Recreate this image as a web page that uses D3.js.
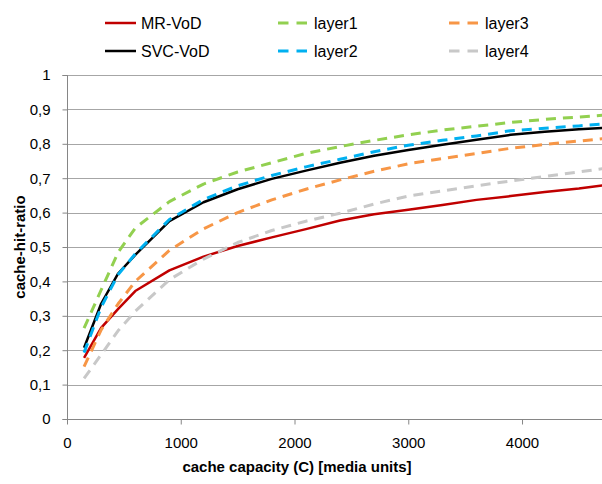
<!DOCTYPE html>
<html>
<head>
<meta charset="utf-8">
<script src="https://cdn.jsdelivr.net/npm/d3@7"></script>
<style>
  html, body { margin: 0; padding: 0; background: #fff; }
  svg { display: block; }
  text { font-family: "Liberation Sans", Arial, sans-serif; }
</style>
</head>
<body>
<svg id="chart" width="602" height="484"></svg>
<script>
// ---- data ----
const capacity = [150, 300, 450, 600, 900, 1200, 1500, 1800, 2100, 2400, 2700, 3000, 3300, 3600, 3900, 4200, 4500, 4800];
const mrVod  = [0.178, 0.265, 0.320, 0.372, 0.432, 0.472, 0.503, 0.528, 0.552, 0.577, 0.595, 0.608, 0.622, 0.637, 0.648, 0.660, 0.670, 0.683];
const svcVod = [0.207, 0.335, 0.423, 0.477, 0.575, 0.630, 0.668, 0.698, 0.722, 0.745, 0.765, 0.782, 0.797, 0.812, 0.826, 0.835, 0.842, 0.848];
const layer1 = [0.264, 0.375, 0.485, 0.555, 0.632, 0.683, 0.718, 0.745, 0.772, 0.792, 0.810, 0.826, 0.840, 0.851, 0.862, 0.871, 0.878, 0.885];
const layer2 = [0.193, 0.325, 0.420, 0.480, 0.580, 0.638, 0.678, 0.708, 0.733, 0.755, 0.777, 0.796, 0.810, 0.823, 0.838, 0.845, 0.852, 0.860];
const layer3 = [0.152, 0.259, 0.335, 0.400, 0.490, 0.553, 0.600, 0.637, 0.668, 0.695, 0.720, 0.742, 0.757, 0.772, 0.787, 0.798, 0.808, 0.818];
const layer4 = [0.118, 0.187, 0.257, 0.313, 0.405, 0.465, 0.513, 0.548, 0.575, 0.598, 0.625, 0.648, 0.663, 0.678, 0.692, 0.705, 0.718, 0.732];
const seriesNames = ["MR-VoD", "SVC-VoD", "layer1", "layer2", "layer3", "layer4"];
const xTicks = [0, 1000, 2000, 3000, 4000];
const yTicks = [0, 0.1, 0.2, 0.3, 0.4, 0.5, 0.6, 0.7, 0.8, 0.9, 1];
const xTitle = "cache capacity  (C) [media units]";
const yTitle = "cache-hit-ratio";

// ---- styles ----
const styles = {
  "MR-VoD":  { color: "#c00000", dash: null },
  "SVC-VoD": { color: "#000000", dash: null },
  "layer1":  { color: "#92d050", dash: "10,7" },
  "layer2":  { color: "#00b0f0", dash: "10,7" },
  "layer3":  { color: "#f79646", dash: "10,7" },
  "layer4":  { color: "#c8c8c8", dash: "10,7" }
};
const valuesBySeries = [mrVod, svcVod, layer1, layer2, layer3, layer4];

const svg = d3.select("#chart");
const plotLeft = 67, plotRight = 602, plotTop = 75, plotBottom = 419;

const x = d3.scaleLinear().domain([0, 4703]).range([plotLeft, plotRight]);
const y = d3.scaleLinear().domain([0, 1]).range([plotBottom, plotTop]);

// gridlines
svg.append("g").selectAll("line").data(yTicks.filter(d => d > 0)).join("line")
  .attr("x1", plotLeft).attr("x2", plotRight)
  .attr("y1", d => Math.round(y(d)) + 0.5).attr("y2", d => Math.round(y(d)) + 0.5)
  .attr("stroke", "#a6a6a6").attr("stroke-width", 1);

// y axis
const yAxis = d3.axisLeft(y).tickValues(yTicks).tickSize(5)
  .tickFormat(d => d3.format(".1~f")(d).replace(".", ","));
const gy = svg.append("g").attr("transform", `translate(${plotLeft + 0.5},0)`).call(yAxis);
gy.select(".domain").attr("stroke", "#868686").attr("d", `M-5,${Math.round(plotTop)+0.5}H0V${Math.round(plotBottom)+0.5}H-5`);
gy.selectAll(".tick line").attr("stroke", "#868686");
gy.selectAll(".tick text").attr("font-size", 15).attr("fill", "#000").attr("x", -17)
  .attr("font-family", "'Liberation Sans', Arial, sans-serif");

// x axis
const xAxis = d3.axisBottom(x).tickValues(xTicks).tickSize(5).tickFormat(d3.format("d"));
const gx = svg.append("g").attr("transform", `translate(0,${Math.round(plotBottom) + 0.5})`).call(xAxis);
gx.select(".domain").attr("stroke", "#868686").attr("d", `M${plotLeft},0H${plotRight}`);
gx.selectAll(".tick line").attr("stroke", "#868686");
gx.selectAll(".tick text").attr("font-size", 15).attr("fill", "#000").attr("y", 18)
  .attr("font-family", "'Liberation Sans', Arial, sans-serif");

// clip
svg.append("clipPath").attr("id", "plotclip").append("rect")
  .attr("x", plotLeft).attr("y", 0).attr("width", plotRight - plotLeft).attr("height", plotBottom + 5);

const line = d3.line().x(d => x(d[0])).y(d => y(d[1]));
const gl = svg.append("g").attr("clip-path", "url(#plotclip)");
seriesNames.forEach((name, i) => {
  const pts = capacity.map((c, j) => [c, valuesBySeries[i][j]]);
  gl.append("path").datum(pts).attr("d", line)
    .attr("fill", "none")
    .attr("stroke", styles[name].color)
    .attr("stroke-width", styles[name].dash ? 3 : 2.5)
    .attr("stroke-dasharray", styles[name].dash)
    .attr("stroke-linejoin", "round");
});

// titles
svg.append("text").attr("x", 297).attr("y", 472).attr("text-anchor", "middle")
  .attr("font-size", 15).attr("font-weight", "bold").text(xTitle);
svg.append("text").attr("transform", "translate(25,247) rotate(-90)").attr("text-anchor", "middle")
  .attr("font-size", 15).attr("font-weight", "bold").text(yTitle);

// legend
const legendPos = [
  { lx: 105, ty: 23 }, { lx: 105, ty: 51 },
  { lx: 278, ty: 23 }, { lx: 278, ty: 51 },
  { lx: 449, ty: 23 }, { lx: 449, ty: 51 }
];
const lg = svg.append("g");
seriesNames.forEach((name, i) => {
  const p = legendPos[i];
  const s = styles[name];
  lg.append("line").attr("x1", p.lx).attr("x2", p.lx + 31).attr("y1", p.ty).attr("y2", p.ty)
    .attr("stroke", s.color).attr("stroke-width", s.dash ? 3 : 2.5)
    .attr("stroke-dasharray", s.dash ? "10.5,8" : null);
  lg.append("text").attr("x", p.lx + 36).attr("y", p.ty).attr("dy", "0.36em")
    .attr("font-size", 16).text(name);
});
</script>
</body>
</html>
